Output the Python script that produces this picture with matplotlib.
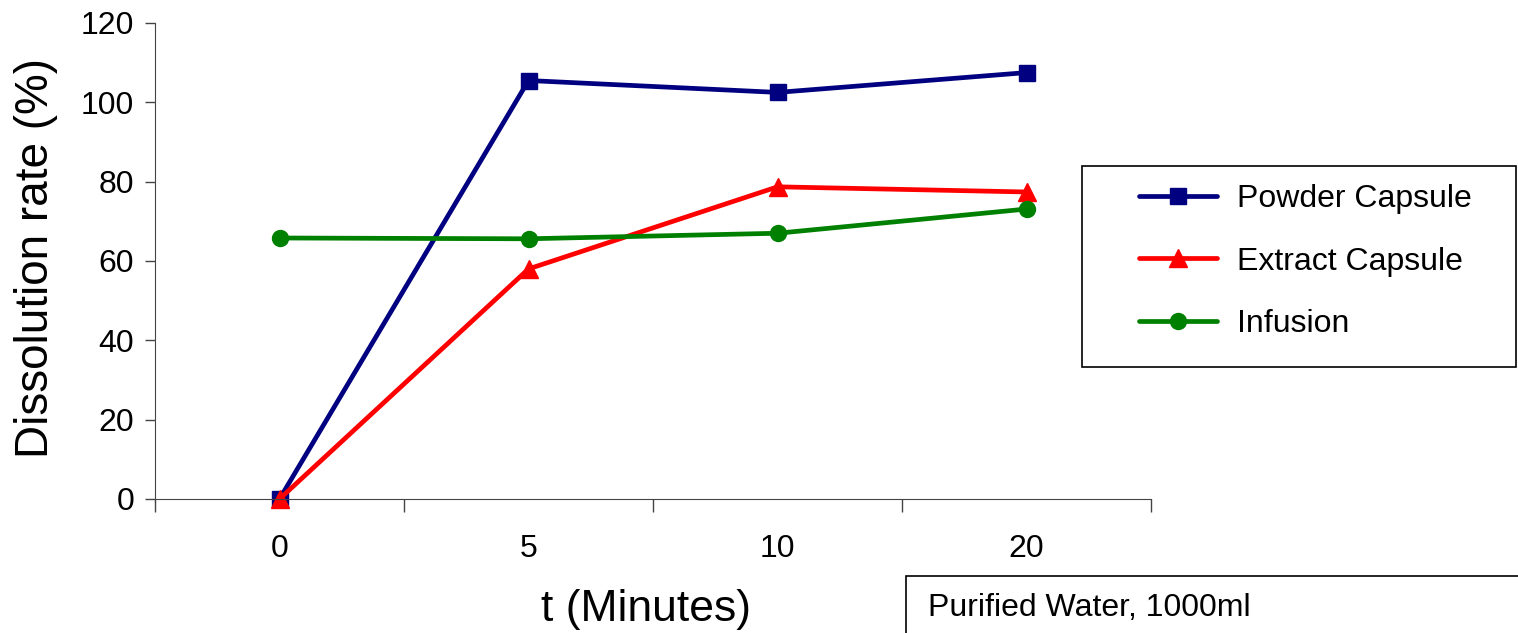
import matplotlib
matplotlib.use("Agg")
import matplotlib.pyplot as plt
from matplotlib.patches import Rectangle

plt.rcParams['font.family'] = ['Liberation Sans', 'DejaVu Sans']

categories = ["0", "5", "10", "20"]
powder = [0, 105.5, 102.5, 107.5]
extract = [0, 58.0, 78.7, 77.4]
infusion = [65.8, 65.6, 67.0, 73.1]
series_names = ["Powder Capsule", "Extract Capsule", "Infusion"]
y_ticks = [0, 20, 40, 60, 80, 100, 120]

W, H = 1518, 633
fig = plt.figure(figsize=(W / 100, H / 100), dpi=100)

def fx(px):
    return px / W

def fy(py):
    return 1 - py / H

ax = fig.add_axes([fx(155), fy(499), fx(1151) - fx(155), fy(23) - fy(499)])
x = list(range(len(categories)))

styles = [
    (powder, '#000080', 's', 12, 3.4),
    (extract, '#FF0000', '^', 13.5, 3.4),
    (infusion, '#008000', 'o', 11.5, 3.4),
]
handles = []
for (vals, col, mk, ms, lw), name in zip(styles, series_names):
    h, = ax.plot(x, vals, color=col, marker=mk, markersize=ms, linewidth=lw,
                 markerfacecolor=col, markeredgecolor=col, label=name, clip_on=False,
                 solid_capstyle='round')
    handles.append(h)

ax.set_xlim(-0.5, len(categories) - 0.5)
ax.set_ylim(0, 120)
ax.set_yticks(y_ticks)
ax.set_yticklabels([str(v) for v in y_ticks], fontsize=23)
ax.set_xticks(x)
ax.set_xticklabels(categories, fontsize=23)
ax.set_xticks([i - 0.5 for i in range(len(categories) + 1)], minor=True)
ax.tick_params(axis='x', which='major', length=0, pad=25)
ax.tick_params(axis='x', which='minor', length=9, direction='out', color='#444444', width=1)
ax.tick_params(axis='y', length=7, direction='out', color='#444444', width=1, pad=8)

for s in ['top', 'right']:
    ax.spines[s].set_visible(False)
ax.spines['left'].set_color('#444444')
ax.spines['bottom'].set_color('#444444')
ax.spines['left'].set_bounds(-3 / 3.967, 120)

fig.text(fx(36), fy(258), "Dissolution rate (%)", fontsize=33, rotation=90,
         ha='center', va='center')
fig.text(fx(646), fy(609), "t (Minutes)", fontsize=32, ha='center', va='center')

# legend frame
fig.patches.append(Rectangle((fx(1082), fy(367)), fx(1516) - fx(1082), fy(166) - fy(367),
                             transform=fig.transFigure, fill=False, edgecolor='black',
                             linewidth=1.2))
leg = fig.legend(handles=handles, labels=series_names, loc='upper left',
                 bbox_to_anchor=(fx(1139), fy(184)), frameon=False, fontsize=23,
                 handlelength=2.45, handletextpad=0.62, labelspacing=1.02, borderpad=0,
                 borderaxespad=0, markerscale=1.0)

# note box
fig.patches.append(Rectangle((fx(906), fy(640)), fx(1530) - fx(906), fy(576) - fy(640),
                             transform=fig.transFigure, fill=False, edgecolor='black',
                             linewidth=1.2, clip_on=False))
fig.text(fx(928), fy(608), "Purified Water, 1000ml", fontsize=23, ha='left', va='center')

fig.savefig("out.png", dpi=100)
